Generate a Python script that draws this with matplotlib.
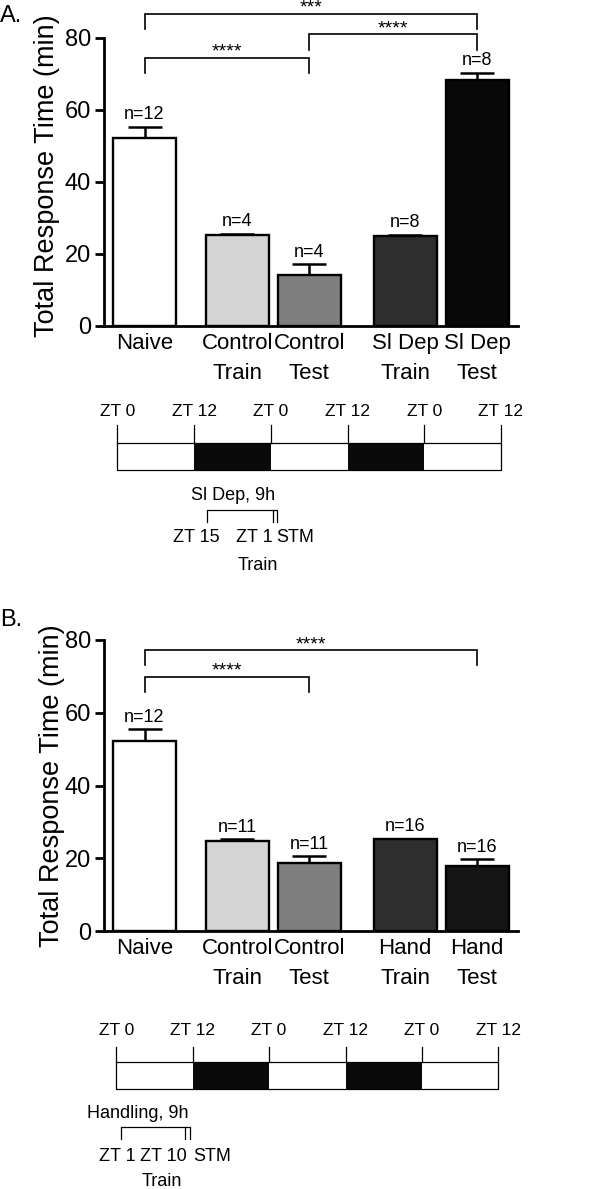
import matplotlib
matplotlib.use("Agg")
import matplotlib.pyplot as plt
import numpy as np

plt.rcParams['font.family'] = ['Liberation Sans', 'DejaVu Sans']

# ---------------- data ----------------
cats_a = ["Naive", "Control\nTrain", "Control\nTest", "Sl Dep\nTrain", "Sl Dep\nTest"]
vals_a = [52.3, 25.3, 14.2, 25.1, 68.2]
errs_a = [3.1, 0.3, 2.9, 0.3, 2.2]
ns_a = ["n=12", "n=4", "n=4", "n=8", "n=8"]
colors_a = ["#ffffff", "#d4d4d4", "#7f7f7f", "#2e2e2e", "#080808"]

cats_b = ["Naive", "Control\nTrain", "Control\nTest", "Hand\nTrain", "Hand\nTest"]
vals_b = [52.2, 24.8, 18.6, 25.2, 17.9]
errs_b = [3.2, 0.4, 2.0, 0.2, 1.8]
ns_b = ["n=12", "n=11", "n=11", "n=16", "n=16"]
colors_b = ["#ffffff", "#d4d4d4", "#7f7f7f", "#2e2e2e", "#141414"]

# significance brackets: (i, j, y, label)
sig_a = [(0, 2, 74.5, "****"), (2, 4, 81.0, "****"), (0, 4, 86.8, "***")]
sig_b = [(0, 2, 69.9, "****"), (0, 4, 77.2, "****")]

yticks = [0, 20, 40, 60, 80]
zt_ticks = [0, 12, 24, 36, 48, 60]
zt_labels = ["ZT 0", "ZT 12", "ZT 0", "ZT 12", "ZT 0", "ZT 12"]
dark_periods = [(12, 24), (36, 48)]

# ---------------- layout ----------------
W, H = 609, 1189
fig = plt.figure(figsize=(W / 100, H / 100), dpi=100)
positions = [0, 1.29, 2.29, 3.62, 4.62]


def px_axes(l, t, r, b):
    return fig.add_axes([l / W, 1 - b / H, (r - l) / W, (b - t) / H])


def bar_panel(top, bottom, cats, vals, errs, ns, colors, sigs, label_y, ylab_x):
    ax = px_axes(104, top, 518, bottom)
    ax.bar(positions, vals, width=0.875, color=colors, edgecolor="black",
           linewidth=1.7, zorder=2)
    lower = [0] * len(errs)
    ax.errorbar(positions, vals, yerr=[lower, errs], fmt="none", ecolor="black",
                elinewidth=1.8, capsize=12.5, capthick=1.8, zorder=1)
    for x, v, e, n in zip(positions, vals, errs, ns):
        ax.annotate(n, (x, v + e), xytext=(0, 2.5), textcoords="offset points",
                    ha="center", va="bottom", fontsize=13)
    for i, j, y, lab in sigs:
        xi, xj = positions[i], positions[j]
        ax.plot([xi, xi, xj, xj], [y - 4.2, y, y, y - 4.2], color="black",
                lw=1.2, clip_on=False, solid_joinstyle="miter")
        ax.text((xi + xj) / 2, y + 0.3, lab, ha="center", va="baseline",
                fontsize=14, clip_on=False)
    ax.set_xlim(-0.5625, 5.1875)
    ax.set_ylim(0, 80)
    ax.set_yticks(yticks)
    ax.set_xticks(positions)
    ax.set_xticklabels(cats, fontsize=16, linespacing=1.55)
    ax.tick_params(axis="x", length=0, pad=5)
    ax.tick_params(axis="y", length=6.5, width=2, labelsize=17, pad=3)
    for s in ["top", "right"]:
        ax.spines[s].set_visible(False)
    ax.spines["left"].set_linewidth(2)
    ax.spines["bottom"].set_linewidth(2)
    fig.text(ylab_x / W, 1 - label_y / H, "Total Response Time (min)",
             rotation=90, ha="center", va="center", fontsize=19.5)
    return ax


def timeline(l, r, y_lab, y_tick, y_top, y_bot):
    ax = fig.add_axes([l / W, 0, (r - l) / W, 1])
    ax.set_xlim(0, 60)
    ax.set_ylim(H, 0)
    ax.axis("off")
    ax.plot([0, 60, 60, 0, 0], [y_top, y_top, y_bot, y_bot, y_top],
            color="black", lw=0.9, clip_on=False)
    for a, b in dark_periods:
        ax.fill([a, b, b, a], [y_top, y_top, y_bot, y_bot], color="#0a0a0a",
                lw=0, clip_on=False)
    for t, lab in zip(zt_ticks, zt_labels):
        ax.plot([t, t], [y_tick, y_top], color="black", lw=0.9, clip_on=False)
        ax.text(t, y_lab, lab, ha="center", va="center", fontsize=12.5)
    return ax


# Panel A
bar_panel(38, 326, cats_a, vals_a, errs_a, ns_a, colors_a, sig_a, 176, 47)
fig.text(0 / W, 1 - 16 / H, "A.", ha="left", va="center", fontsize=17)
tA = timeline(117.3, 501, 411.7, 425, 442.7, 470)
tA.text(18.1, 495, "Sl Dep, 9h", ha="center", va="center", fontsize=13)
tA.plot([14.1, 14.1, 25.0, 25.0], [521.7, 510, 510, 521.7], color="black",
        lw=0.9, clip_on=False)
tA.plot([24.3, 24.3], [510, 521.7], color="black", lw=0.9, clip_on=False)
tA.text(12.4, 538, "ZT 15", ha="center", va="center", fontsize=13)
tA.text(24.3, 538, "ZT 1", ha="right", va="center", fontsize=13)
tA.text(24.9, 538, "STM", ha="left", va="center", fontsize=13)
tA.text(21.9, 565, "Train", ha="center", va="center", fontsize=13)

# Panel B
bar_panel(640, 931, cats_b, vals_b, errs_b, ns_b, colors_b, sig_b, 786, 52)
fig.text(0 / W, 1 - 620 / H, "B.", ha="left", va="center", fontsize=17)
tB = timeline(116.3, 498.3, 1030.7, 1046.7, 1061.7, 1089)
tB.text(3.4, 1113.3, "Handling, 9h", ha="center", va="center", fontsize=13)
tB.plot([0.75, 0.75, 11.5, 11.5], [1139.3, 1127.3, 1127.3, 1139.3],
        color="black", lw=0.9, clip_on=False)
tB.plot([10.8, 10.8], [1127.3, 1139.3], color="black", lw=0.9, clip_on=False)
tB.text(0.2, 1156.7, "ZT 1", ha="center", va="center", fontsize=13)
tB.text(11.0, 1156.7, "ZT 10", ha="right", va="center", fontsize=13)
tB.text(12.1, 1156.7, "STM", ha="left", va="center", fontsize=13)
tB.text(7.1, 1181.7, "Train", ha="center", va="center", fontsize=13)

fig.savefig("out.png", dpi=100)
